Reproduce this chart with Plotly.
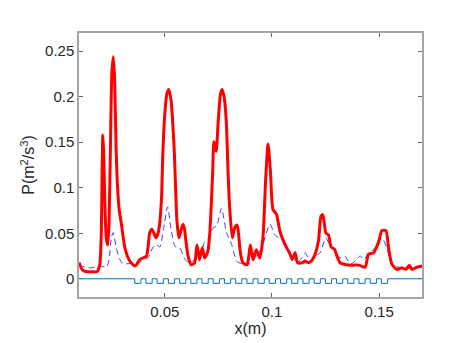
import plotly.graph_objects as go

# red curve (thick)
red_x = [0.0100, 0.0115, 0.0130, 0.0160, 0.0185, 0.0197, 0.0204, 0.0208, 0.0211, 0.0215,
         0.0221, 0.0227, 0.0234, 0.0240, 0.0247, 0.0253, 0.0260, 0.0266, 0.0273, 0.0280,
         0.0288, 0.0298, 0.0314, 0.0337, 0.0360, 0.0370, 0.0384, 0.0400, 0.0415, 0.0430,
         0.0440, 0.0450, 0.0458, 0.0466, 0.0475, 0.0485, 0.0491, 0.0500, 0.0510, 0.0519,
         0.0530, 0.0540, 0.0545, 0.0552, 0.0557, 0.0566, 0.0575, 0.0585, 0.0592, 0.0597,
         0.0608, 0.0623, 0.0639, 0.0650, 0.0656, 0.0662, 0.0675, 0.0686, 0.0701, 0.0710,
         0.0717, 0.0724, 0.0729, 0.0735, 0.0740, 0.0750, 0.0760, 0.0768, 0.0778, 0.0787,
         0.0795, 0.0802, 0.0815, 0.0826, 0.0838, 0.0845, 0.0852, 0.0865, 0.0884, 0.0892,
         0.0899, 0.0905, 0.0912, 0.0927, 0.0943, 0.0958, 0.0971, 0.0982, 0.0993, 0.1005,
         0.1021, 0.1037, 0.1053, 0.1069, 0.1085, 0.1095, 0.1108, 0.1120, 0.1140, 0.1155,
         0.1170, 0.1186, 0.1201, 0.1217, 0.1229, 0.1237, 0.1245, 0.1251, 0.1264, 0.1276,
         0.1292, 0.1303, 0.1318, 0.1341, 0.1372, 0.1405, 0.1435, 0.1450, 0.1474, 0.1497,
         0.1513, 0.1532, 0.1544, 0.1560, 0.1583, 0.1606, 0.1625, 0.1641, 0.1653, 0.1677,
         0.1700]
red_y = [0.018, 0.010, 0.008, 0.0077, 0.0080, 0.0158, 0.050, 0.120, 0.158, 0.140,
         0.080, 0.045, 0.037, 0.060, 0.150, 0.225, 0.244, 0.220, 0.144, 0.100,
         0.075, 0.060, 0.034, 0.0195, 0.014, 0.016, 0.0213, 0.023, 0.025, 0.0507,
         0.0545, 0.050, 0.045, 0.048, 0.058, 0.089, 0.137, 0.180, 0.203, 0.208,
         0.195, 0.160, 0.137, 0.090, 0.063, 0.045, 0.052, 0.060, 0.055, 0.045,
         0.026, 0.0154, 0.0173, 0.037, 0.030, 0.021, 0.034, 0.0228, 0.030, 0.050,
         0.0815, 0.120, 0.1505, 0.145, 0.140, 0.175, 0.203, 0.208, 0.198, 0.173,
         0.120, 0.0815, 0.045, 0.0558, 0.059, 0.048, 0.030, 0.0173, 0.0154, 0.025,
         0.037, 0.030, 0.021, 0.032, 0.0228, 0.045, 0.111, 0.148, 0.118, 0.076,
         0.071, 0.0525, 0.042, 0.034, 0.0268, 0.0213, 0.0286, 0.0176, 0.0176, 0.0195,
         0.0176, 0.020, 0.0268, 0.0415, 0.069, 0.0705, 0.060, 0.0507, 0.048, 0.0349,
         0.0323, 0.025, 0.0176, 0.0158, 0.015, 0.015, 0.0128, 0.0268, 0.0286, 0.040,
         0.053, 0.053, 0.034, 0.0158, 0.0103, 0.012, 0.0105, 0.015, 0.0103, 0.0128,
         0.014]

# blue dashed curve
blue_x = [0.0100, 0.0127, 0.0160, 0.0197, 0.0228, 0.0239, 0.0251, 0.0259, 0.0274, 0.0290,
          0.0306, 0.0360, 0.0391, 0.0422, 0.0446, 0.0461, 0.0477, 0.0493, 0.0513, 0.0531,
          0.0547, 0.0570, 0.0594, 0.0617, 0.0641, 0.0664, 0.0684, 0.0703, 0.0726, 0.0742,
          0.0765, 0.0788, 0.0812, 0.0835, 0.0858, 0.0890, 0.0921, 0.0952, 0.0991, 0.1014,
          0.1045, 0.1069, 0.1085, 0.1100, 0.1116, 0.1139, 0.1155, 0.1178, 0.1201, 0.1225,
          0.1251, 0.1272, 0.1295, 0.1318, 0.1341, 0.1365, 0.1388, 0.1411, 0.1427, 0.1450,
          0.1481, 0.1513, 0.1536, 0.1552, 0.1575, 0.1622, 0.1660, 0.1700]
blue_y = [0.015, 0.0128, 0.012, 0.014, 0.0128, 0.0195, 0.045, 0.0507, 0.034, 0.0213,
          0.0165, 0.0176, 0.0195, 0.023, 0.0349, 0.0378, 0.0349, 0.0525, 0.079, 0.0525,
          0.036, 0.034, 0.0213, 0.0176, 0.0213, 0.023, 0.0396, 0.0433, 0.056, 0.058,
          0.0775, 0.0507, 0.0378, 0.0195, 0.0165, 0.0158, 0.023, 0.034, 0.060, 0.048,
          0.0433, 0.034, 0.030, 0.023, 0.0176, 0.023, 0.0286, 0.0195, 0.025, 0.0286,
          0.045, 0.036, 0.0305, 0.023, 0.025, 0.0158, 0.0195, 0.025, 0.0213, 0.0275,
          0.034, 0.045, 0.034, 0.0195, 0.014, 0.0114, 0.0114, 0.0128]

# grooved wall profile
groove_start = [0.0360, 0.04123, 0.04646, 0.05169, 0.05692, 0.06215, 0.06738, 0.07261,
                0.07784, 0.08307, 0.08830, 0.09353, 0.09876, 0.10399, 0.10922, 0.11445,
                0.11968, 0.12491, 0.13014, 0.13537, 0.14060, 0.14583, 0.15106]
groove_end = [0.0389, 0.04413, 0.04936, 0.05459, 0.05982, 0.06505, 0.07028, 0.07551,
              0.08074, 0.08597, 0.0912, 0.09643, 0.10166, 0.10689, 0.11212, 0.11735,
              0.12258, 0.12781, 0.13304, 0.13827, 0.1435, 0.14873, 0.15396]
groove_depth = -0.005

wall_x = [0.01]
wall_y = [0]
for s, e in zip(groove_start, groove_end):
    wall_x += [s, e]
    wall_y += [groove_depth, 0]
wall_x.append(0.17)
wall_y.append(0)

fig = go.Figure()
fig.add_trace(go.Scatter(x=wall_x, y=wall_y, mode='lines', line_shape='hv',
                         line=dict(color='rgb(0,114,189)', width=1)))
fig.add_trace(go.Scatter(x=blue_x, y=blue_y, mode='lines', line_shape='spline',
                         line=dict(color='rgb(60,60,255)', width=1, dash='6px,4px', smoothing=0.6)))
fig.add_trace(go.Scatter(x=red_x, y=red_y, mode='lines', line_shape='spline',
                         line=dict(color='rgb(255,0,0)', width=3, smoothing=0.6)))

font = 'Liberation Sans, Arial'
axis_style = dict(showline=True, linecolor='#a6a6a6', linewidth=1.5, mirror='ticks',
                  ticks='inside', ticklen=4, tickcolor='#666666', tickwidth=1,
                  showgrid=False, zeroline=False, automargin=False,
                  tickfont=dict(family=font, size=15, color='#262626'))

fig.update_xaxes(range=[0.01, 0.17], tickvals=[0.05, 0.1, 0.15], ticktext=['0.05', '0.1', '0.15'],
                 title=dict(text='x(m)', font=dict(family=font, size=16, color='#262626'), standoff=4),
                 **axis_style)
fig.update_yaxes(range=[-0.02, 0.27], tickvals=[0, 0.05, 0.1, 0.15, 0.2, 0.25],
                 ticktext=['0', '0.05', '0.1', '0.15', '0.2', '0.25'],
                 title=dict(text='P(m<sup>2</sup>/s<sup>3</sup>)',
                            font=dict(family=font, size=16, color='#262626'), standoff=6),
                 **axis_style)

fig.update_layout(width=457, height=343, showlegend=False,
                  margin=dict(l=71, r=43, t=25, b=54),
                  plot_bgcolor='white', paper_bgcolor='white')

fig.write_html("out.html")
